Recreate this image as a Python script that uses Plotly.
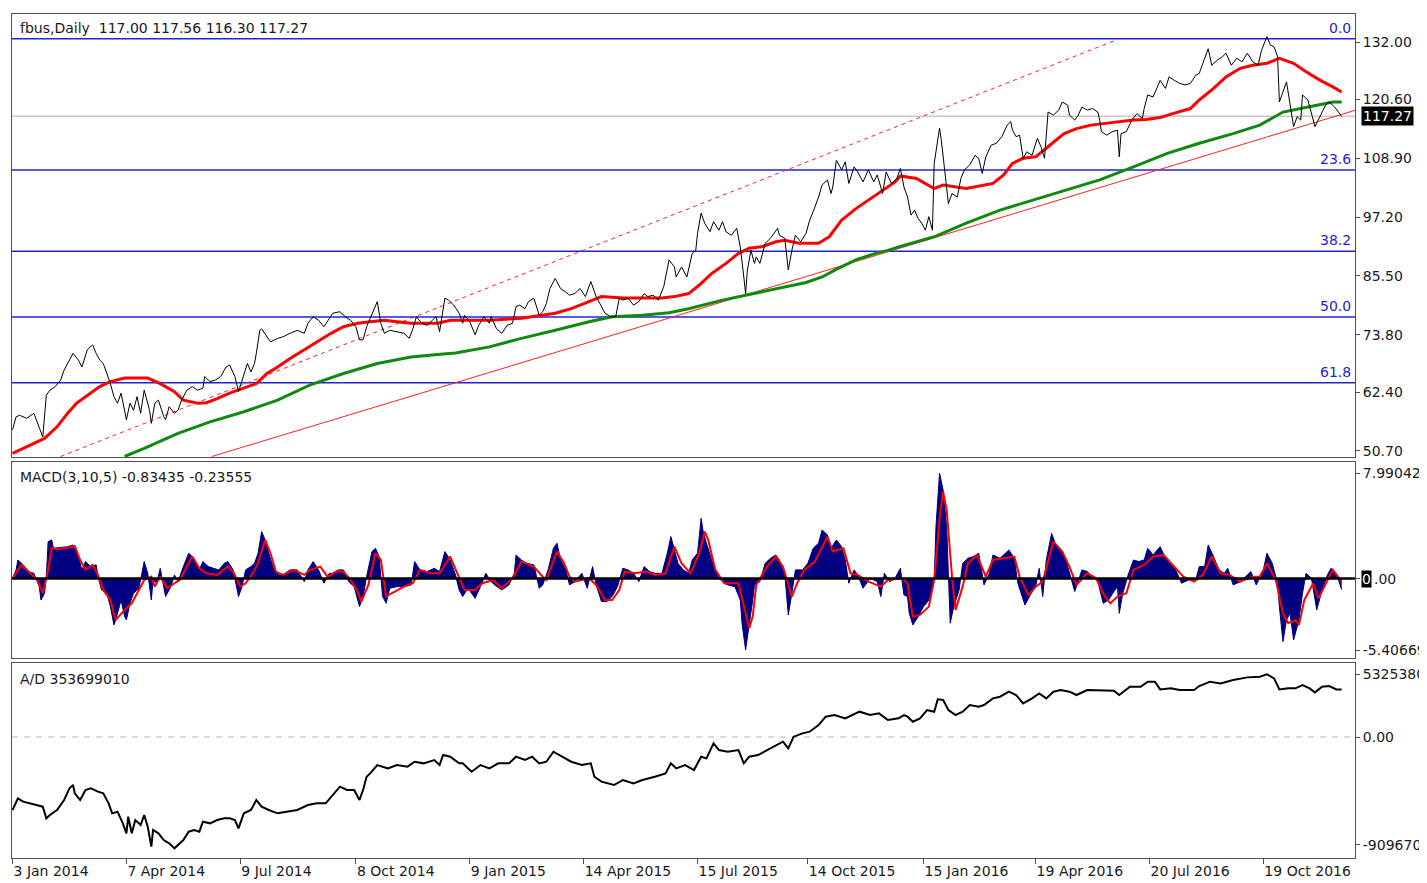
import plotly.graph_objects as go

# ---------------- DATA (bar index = trading-day number from 3 Jan 2014) ----------------
tick_bars = [0, 64, 128, 193, 257, 321, 385, 447, 512, 575, 639, 703]
tick_labels = ["3 Jan 2014", "7 Apr 2014", "9 Jul 2014", "8 Oct 2014", "9 Jan 2015",
               "14 Apr 2015", "15 Jul 2015", "14 Oct 2015", "15 Jan 2016", "19 Apr 2016",
               "20 Jul 2016", "19 Oct 2016"]

price_ticks = [132.00, 120.60, 108.90, 97.20, 85.50, 73.80, 62.40, 50.70]
last_close = 117.27

price_bar = [0, 2, 4, 8, 12, 15, 17, 19, 21, 24, 27, 29, 32, 34, 37, 39, 42, 45, 47, 49, 51, 53, 55, 57, 59,
             61, 63, 64, 66, 68, 70, 72, 74, 77, 78, 80, 82, 85, 86, 88, 91, 93, 95, 98, 101, 104, 107, 108,
             111, 114, 117, 120, 122, 125, 127, 129, 132, 134, 136, 137, 139, 140, 143, 145, 149, 152, 156,
             160, 164, 166, 169, 172, 175, 178, 180, 184, 187, 190, 193, 195, 197, 199, 202, 205, 207, 209,
             212, 216, 220, 223, 225, 227, 230, 233, 236, 238, 240, 241, 243, 245, 248, 251, 253, 254, 257,
             260, 262, 265, 268, 269, 272, 275, 278, 281, 283, 285, 288, 290, 293, 296, 298, 300, 302, 305,
             308, 311, 313, 316, 319, 322, 325, 328, 330, 333, 336, 339, 341, 343, 346, 349, 352, 355, 357,
             360, 363, 366, 369, 372, 373, 376, 379, 382, 384, 385, 387, 389, 392, 394, 397, 399, 401, 404,
             407, 409, 411, 412, 413, 415, 417, 418, 420, 423, 426, 430, 431, 434, 436, 438, 440, 443, 446,
             448, 450, 453, 455, 458, 460, 461, 463, 466, 468, 470, 473, 475, 478, 481, 484, 486, 489, 491,
             494, 497, 499, 501, 503, 505, 507, 509, 511, 513, 515, 517, 518, 520, 521, 522, 524, 526, 528,
             531, 533, 535, 538, 541, 543, 545, 547, 550, 553, 556, 559, 561, 562, 564, 566, 568, 570, 573,
             576, 578, 580, 581, 582, 585, 588, 590, 593, 594, 597, 599, 601, 604, 607, 610, 611, 612, 615,
             618, 621, 622, 623, 626, 629, 632, 635, 636, 638, 641, 643, 645, 648, 650, 653, 656, 659, 662,
             665, 667, 669, 672, 674, 677, 680, 682, 685, 688, 691, 694, 697, 700, 702, 705, 707, 709, 711,
             712, 716, 718, 720, 722, 724, 725, 728, 732, 735, 738, 740, 743, 747]
price_close = [54.9, 57.5, 57.8, 57.2, 58.2, 55.5, 53.5, 61.8, 62.8, 63.5, 64.8, 66.8, 68.8, 70.1, 68.8, 67.4,
               70.8, 71.8, 70.1, 68.8, 68.1, 66.1, 64.1, 61.5, 60.2, 62.2, 58.2, 56.9, 60.2, 58.8, 61.5, 58.2,
               62.8, 58.8, 56.2, 60.2, 60.8, 57.5, 56.9, 59.5, 58.2, 58.8, 60.8, 62.8, 63.5, 62.8, 63.2, 65.5,
               64.5, 64.8, 65.5, 67.4, 67.8, 65.5, 62.5, 64.8, 68.1, 66.4, 68.1, 70.1, 74.7, 75.0, 73.4, 72.4,
               73.1, 73.4, 74.1, 74.7, 74.1, 76.1, 77.4, 76.7, 75.4, 77.1, 78.1, 78.4, 77.4, 76.7, 75.4, 72.8,
               72.8, 75.4, 78.1, 80.4, 76.1, 74.1, 74.7, 74.4, 74.1, 73.1, 75.0, 77.4, 76.1, 75.7, 76.7, 77.4,
               74.4, 76.7, 81.1, 80.7, 79.7, 78.1, 76.1, 77.7, 76.4, 73.8, 75.7, 77.4, 76.1, 77.4, 75.0, 74.1,
               75.7, 76.1, 79.4, 79.7, 79.0, 80.4, 81.1, 77.7, 78.4, 80.0, 83.0, 85.0, 83.0, 82.3, 81.7, 82.0,
               83.0, 81.4, 84.4, 81.4, 80.0, 78.1, 77.4, 77.4, 81.1, 80.7, 81.1, 79.7, 80.4, 82.0, 81.4, 81.7,
               80.7, 83.4, 88.7, 87.3, 85.3, 87.3, 85.3, 90.0, 90.6, 94.0, 98.0, 96.0, 94.3, 96.3, 94.6, 96.3,
               94.3, 93.6, 95.0, 91.3, 85.3, 82.0, 86.7, 90.6, 88.0, 89.3, 88.0, 92.0, 93.0, 95.0, 93.6, 93.0,
               86.7, 90.6, 93.6, 92.3, 94.0, 96.6, 98.3, 101.2, 103.6, 104.6, 101.9, 103.2, 108.5, 106.6,
               108.2, 103.9, 107.2, 106.2, 104.2, 106.6, 104.2, 105.6, 101.9, 106.2, 103.9, 104.9, 106.9,
               103.2, 101.2, 97.6, 98.6, 96.9, 96.0, 94.6, 97.3, 94.6, 107.9, 112.5, 114.9, 112.5, 105.9,
               99.9, 101.9, 101.2, 104.9, 106.6, 107.6, 109.5, 108.9, 105.9, 109.2, 111.5, 111.9, 113.2,
               115.5, 116.2, 114.5, 113.2, 113.5, 108.9, 110.2, 109.5, 112.9, 111.2, 108.9, 113.2, 118.1,
               117.5, 118.5, 120.1, 119.5, 117.5, 116.5, 117.5, 119.1, 118.5, 118.8, 118.1, 116.5, 114.2,
               113.5, 114.2, 114.5, 109.2, 113.8, 114.2, 116.5, 117.8, 116.8, 118.8, 121.5, 121.1, 122.8,
               124.4, 122.8, 125.1, 124.4, 123.8, 123.5, 123.8, 125.4, 125.8, 127.8, 130.7, 127.4, 128.4,
               129.1, 129.8, 127.4, 128.8, 128.1, 129.8, 128.1, 127.4, 130.4, 133.1, 131.4, 131.1, 129.1,
               120.1, 124.1, 119.8, 115.2, 117.2, 116.5, 121.5, 120.5, 115.2, 117.2, 119.5, 120.1, 119.1, 117.27]

ma_fast_bar = [0, 10, 18, 25, 31, 36, 44, 49, 55, 63, 70, 76, 83, 91, 96, 104, 109, 115, 122, 130, 137, 143,
               149, 156, 164, 171, 179, 186, 194, 201, 209, 216, 224, 239, 246, 268, 286, 305, 314, 324, 331,
               343, 354, 365, 372, 380, 386, 393, 401, 408, 414, 421, 429, 434, 442, 453, 459, 466, 474, 481,
               489, 496, 499, 508, 518, 523, 536, 551, 557, 562, 568, 575, 583, 591, 598, 606, 613, 621, 630,
               637, 645, 652, 662, 667, 675, 682, 690, 697, 705, 712, 720, 727, 735, 742, 747]
ma_fast_val = [50.2, 51.9, 53.2, 55.5, 58.2, 60.2, 62.2, 63.5, 64.5, 65.2, 65.2, 65.2, 64.1, 62.5, 60.8, 60.2,
               60.3, 61.1, 62.2, 63.2, 64.1, 66.1, 67.4, 69.1, 70.8, 72.4, 74.1, 75.4, 76.1, 76.4, 76.7, 76.4,
               76.1, 76.1, 76.7, 76.7, 77.1, 78.1, 79.0, 80.4, 81.4, 81.1, 81.1, 81.1, 81.4, 82.0, 83.7, 86.0,
               88.0, 90.0, 91.0, 91.3, 92.3, 92.6, 92.0, 92.0, 93.3, 96.6, 98.9, 100.6, 102.6, 104.2, 105.4,
               104.9, 102.9, 103.6, 102.9, 103.9, 105.6, 107.9, 108.9, 109.2, 111.5, 113.8, 114.8, 115.5,
               115.8, 116.2, 116.5, 116.6, 117.0, 117.8, 118.8, 120.5, 122.8, 125.1, 126.8, 127.4, 127.8,
               128.8, 127.8, 126.1, 124.4, 123.1, 122.1]

ma_slow_bar = [63, 74, 93, 111, 130, 149, 167, 186, 205, 224, 242, 249, 268, 286, 305, 324, 337, 354, 369,
               380, 399, 412, 427, 446, 455, 464, 474, 485, 492, 499, 518, 536, 555, 574, 593, 611, 630, 649,
               667, 686, 701, 714, 724, 733, 742, 747]
ma_slow_val = [49.6, 51.2, 54.2, 56.5, 58.5, 60.8, 63.8, 66.1, 68.1, 69.4, 70.0, 70.2, 71.4, 73.1, 74.7, 76.4,
               77.4, 77.7, 78.2, 79.0, 80.7, 81.7, 82.7, 84.2, 85.3, 87.0, 88.7, 90.0, 90.6, 91.4, 93.3, 96.0,
               98.6, 100.6, 102.6, 104.6, 107.2, 109.9, 111.9, 113.8, 115.5, 118.1, 118.8, 119.5, 120.1, 120.1]

# trend lines (two anchor points each)
support_bar = [112, 755]
support_val = [49.6, 118.5]
channel_bar = [27, 620]
channel_val = [49.6, 132.4]

# Fibonacci retracement anchors
fib_high = 132.7
fib_low = 22.0
fib_levels = [0.0, 23.6, 38.2, 50.0, 61.8]

# MACD(3,10,5)
macd_ticks = [7.99042, 0.0, -5.40669]
macd_bar = [0, 2, 3, 6, 9, 12, 15, 16, 18, 19, 20, 22, 23, 27, 31, 34, 37, 39, 41, 44, 47, 48, 50, 53, 55, 57,
            58, 61, 63, 64, 66, 68, 71, 74, 76, 78, 79, 81, 83, 86, 89, 91, 93, 96, 99, 102, 105, 107, 110, 113,
            116, 119, 121, 124, 127, 129, 131, 134, 136, 138, 140, 142, 144, 147, 150, 152, 156, 160, 164, 166,
            169, 172, 175, 178, 180, 183, 186, 189, 192, 195, 197, 199, 202, 204, 206, 208, 210, 212, 216, 220,
            224, 226, 229, 233, 237, 240, 243, 246, 249, 251, 253, 256, 260, 263, 266, 269, 271, 275, 279, 282,
            283, 286, 289, 293, 296, 298, 301, 304, 306, 308, 311, 313, 316, 320, 323, 326, 328, 331, 334, 337,
            340, 343, 346, 349, 352, 355, 358, 361, 365, 368, 370, 372, 374, 377, 380, 382, 385, 387, 388, 390,
            393, 397, 400, 402, 406, 409, 410, 412, 414, 416, 417, 420, 423, 426, 429, 431, 434, 436, 438, 440,
            444, 447, 450, 453, 455, 458, 460, 463, 466, 468, 470, 473, 475, 478, 482, 486, 488, 490, 493, 496,
            499, 501, 503, 504, 506, 509, 512, 515, 518, 519, 521, 523, 525, 527, 529, 532, 534, 537, 540, 543,
            546, 549, 551, 555, 560, 563, 565, 569, 572, 575, 577, 579, 581, 584, 586, 589, 592, 594, 597, 601,
            604, 607, 610, 613, 616, 619, 621, 622, 624, 627, 630, 633, 636, 638, 641, 645, 648, 651, 653, 657,
            661, 665, 667, 670, 672, 675, 678, 681, 683, 686, 690, 696, 699, 703, 705, 708, 711, 712, 714, 716,
            718, 720, 723, 725, 727, 730, 733, 736, 739, 741, 744, 747]
macd_main = [0.0, 0.66, 1.41, 1.04, 0.53, 0.40, -0.61, -1.62, -1.11, 0.15, 2.80, 2.93, 2.30, 2.37, 2.42, 2.55,
             1.67, 0.66, 1.29, 0.91, 1.04, 0.15, -0.86, -1.11, -2.12, -3.51, -3.13, -1.62, -2.88, -3.13, -1.87,
             -1.11, -0.73, 1.29, 0.40, -1.62, -0.10, -0.35, 0.78, -1.36, -0.61, 0.28, -0.23, 0.91, 1.92, 1.54,
             0.66, 1.29, 0.91, 0.78, 0.66, 1.16, 1.29, 0.66, -1.36, -0.61, 0.66, 0.91, 1.16, 1.92, 3.56, 2.93,
             1.92, 0.66, 0.28, 0.28, 0.66, 0.66, -0.23, 0.66, 1.29, 0.66, -0.35, 0.40, 0.40, 0.66, 0.66, -0.23,
             -0.61, -2.12, -1.36, 0.15, 2.05, 2.30, 1.67, -1.36, -1.87, -0.73, -0.61, -0.61, -0.48, 1.29, 0.66,
             0.53, 0.78, 0.53, 2.05, 1.41, 0.28, -0.86, -1.36, -0.73, -1.49, -0.61, 0.40, -0.23, -0.48, -0.86,
             -0.48, 0.40, 1.79, 1.41, 1.16, 1.04, -0.73, -0.48, 0.66, 2.30, 2.68, 1.41, 0.66, -0.48, -0.23, 0.40,
             -0.73, 0.91, -0.48, -1.74, -1.74, -1.36, -0.61, 0.78, 0.66, 0.40, -0.23, 0.91, 0.53, 0.40, 0.40,
             1.92, 3.18, 2.17, 1.16, 0.66, 0.40, 1.41, 1.92, 4.57, 3.68, 2.68, 1.41, 0.03, -0.35, -0.48, -0.61,
             -1.62, -3.38, -5.40, -3.64, -1.62, -0.48, -0.23, 1.16, 1.54, 1.79, 1.41, 0.40, -2.75, -1.11, 0.66,
             0.66, 1.16, 2.30, 2.68, 3.69, 3.31, 2.30, 2.93, 2.42, 1.41, -0.35, 0.66, 0.28, -0.73, 0.03, -0.23,
             -1.36, 0.40, -0.23, 0.03, 0.78, -1.24, -1.36, -2.63, -3.51, -2.88, -2.12, -1.62, -0.10, 3.94, 7.99,
             6.71, 3.94, -3.38, -2.12, -0.86, 1.16, 1.54, 1.67, 1.92, -0.48, 0.40, 1.79, 1.54, 2.17, 1.54, -0.35,
             -2.00, -1.24, -0.61, 0.78, -1.36, 1.41, 3.43, 2.68, 2.17, 1.41, 0.40, -0.98, 0.66, 0.53, 0.15,
             -0.23, -1.87, -1.62, -0.98, -0.61, -2.63, -1.11, 0.28, 1.41, 1.29, 1.41, 2.30, 1.79, 2.42, 1.54,
             1.04, 0.91, -0.35, -0.10, -0.10, 0.91, 0.91, 2.55, 1.67, 0.66, 0.40, 0.78, -0.48, -0.23, 0.53,
             -0.48, 0.66, 1.92, 1.16, -0.35, -2.12, -4.77, -3.13, -2.63, -4.65, -3.13, -1.11, 0.40, 0.03, -2.37,
             -0.86, 0.28, 0.78, 0.40, -0.83435]

signal_bar = [0, 5, 10, 14, 17, 20, 22, 25, 32, 35, 38, 41, 45, 48, 51, 55, 58, 61, 63, 67, 70, 74, 78, 80, 83,
              87, 91, 94, 98, 101, 105, 109, 115, 121, 124, 128, 131, 135, 138, 142, 145, 148, 152, 158, 164,
              167, 173, 177, 182, 186, 190, 194, 196, 200, 204, 207, 210, 213, 220, 225, 229, 235, 240, 246,
              250, 254, 260, 264, 270, 275, 281, 286, 293, 297, 300, 306, 310, 313, 316, 324, 328, 333, 337,
              341, 344, 350, 356, 361, 367, 372, 376, 381, 386, 389, 391, 395, 400, 408, 412, 414, 416, 418,
              424, 429, 433, 436, 438, 441, 445, 451, 458, 461, 467, 471, 475, 481, 488, 492, 500, 503, 506,
              510, 515, 518, 521, 523, 525, 528, 530, 534, 537, 542, 547, 551, 557, 563, 566, 571, 575, 579,
              585, 590, 594, 598, 604, 609, 614, 617, 621, 626, 630, 636, 641, 647, 652, 658, 664, 669, 674,
              679, 684, 690, 697, 701, 705, 710, 714, 717, 721, 723, 726, 731, 734, 738, 742, 747]
signal_val = [0.0, 1.04, 0.40, -0.10, -1.11, 0.66, 2.30, 2.22, 2.37, 2.47, 1.41, 0.66, 1.04, 0.28, -0.86, -1.62,
              -3.13, -2.63, -2.37, -1.87, -1.11, -0.10, 0.15, -0.61, 0.15, -0.73, -0.35, -0.10, 0.91, 1.67,
              0.78, 0.40, 0.28, 0.91, 0.53, -0.61, -0.35, 0.40, 1.16, 2.93, 1.92, 0.53, 0.28, 0.66, 0.28, 0.66,
              0.91, 0.15, 0.53, 0.53, -0.10, -0.98, -1.74, -0.48, 1.92, 1.41, -1.36, -1.11, -0.61, -0.35, 0.66,
              0.40, 0.40, 1.67, 0.40, -0.86, -0.86, -0.35, -0.10, -0.73, 0.03, 1.29, 0.91, 0.28, -0.10, 2.05,
              1.16, 0.15, -0.23, 0.03, -0.48, -1.62, -1.62, -0.86, 0.53, 0.40, 0.53, 0.28, 0.40, 2.42, 1.16,
              0.40, 1.92, 3.56, 2.93, 0.66, -0.35, -0.35, -2.63, -3.76, -2.88, -0.48, 0.91, 1.67, 0.91, -0.35,
              -1.36, -0.35, 0.66, 1.29, 3.18, 2.05, 2.30, 0.40, 0.28, -0.23, -0.61, -0.10, 0.03, -0.35, -2.88,
              -2.75, -2.12, -0.10, 4.44, 6.59, 5.20, 0.15, -2.37, -0.61, 1.16, 1.79, 0.15, 1.41, 1.54, 1.67,
              0.15, -1.24, -0.61, -0.23, 2.80, 2.05, 0.91, -0.48, 0.40, 0.03, -1.36, -1.87, -1.36, -1.11, 0.66,
              1.04, 1.67, 1.79, 1.04, 0.15, -0.23, 0.28, 1.67, 0.40, 0.28, -0.23, 0.15, 0.15, 1.16, -0.10,
              -2.63, -3.38, -3.13, -3.51, -1.62, -0.35, -1.49, -0.35, 0.66, -0.23555]

# Accumulation/Distribution
ad_ticks = [532538000, 0, -909670400]
ad_bar = [0, 3, 6, 10, 14, 17, 19, 21, 25, 29, 32, 34, 35, 38, 41, 44, 48, 51, 54, 56, 59, 62, 64, 65, 67, 69,
          72, 74, 76, 78, 79, 82, 85, 88, 91, 93, 96, 99, 102, 105, 107, 111, 115, 119, 122, 125, 127, 130, 134,
          137, 140, 144, 149, 154, 160, 166, 171, 176, 179, 182, 184, 188, 192, 195, 197, 199, 201, 205, 211,
          216, 222, 226, 231, 237, 240, 242, 246, 251, 253, 258, 263, 268, 273, 279, 283, 288, 292, 296, 300,
          304, 309, 314, 320, 325, 327, 331, 338, 343, 349, 354, 361, 367, 370, 373, 378, 383, 387, 390, 394,
          397, 402, 408, 411, 414, 419, 424, 429, 433, 436, 439, 444, 448, 453, 457, 462, 468, 472, 476, 482,
          487, 492, 498, 501, 503, 506, 510, 514, 518, 520, 523, 526, 530, 534, 538, 543, 546, 551, 555, 560,
          564, 568, 573, 577, 581, 585, 589, 594, 598, 604, 611, 619, 622, 628, 634, 638, 642, 645, 651, 656,
          664, 667, 673, 679, 686, 694, 701, 705, 709, 712, 717, 721, 725, 729, 732, 736, 740, 744, 747]
ad_millions = [-616.9, -518.4, -546.5, -560.6, -574.7, -588.7, -687.3, -659.1, -616.9, -532.4, -433.8, -405.7,
               -476.1, -532.4, -447.9, -433.8, -462.0, -476.1, -560.6, -645.0, -631.0, -729.5, -814.0, -673.2,
               -814.0, -701.4, -743.6, -659.1, -757.7, -926.7, -785.9, -814.0, -870.4, -898.5, -940.8, -912.6,
               -870.4, -800.0, -785.9, -800.0, -715.5, -729.5, -701.4, -687.3, -687.3, -701.4, -771.8, -645.0,
               -616.9, -532.4, -588.7, -616.9, -645.0, -631.0, -616.9, -574.7, -560.6, -560.6, -504.4, -447.9,
               -419.7, -447.9, -447.9, -532.4, -447.9, -335.3, -307.1, -236.7, -264.8, -236.7, -250.7, -208.6,
               -222.6, -194.4, -236.7, -152.2, -166.2, -222.6, -222.6, -292.9, -236.7, -264.8, -222.6, -222.6,
               -166.2, -194.4, -166.2, -222.6, -208.6, -124.0, -166.2, -208.6, -236.7, -222.6, -335.3, -377.5,
               -405.7, -363.5, -391.7, -363.5, -335.3, -307.1, -222.6, -264.8, -236.7, -278.9, -166.2, -180.3,
               -53.6, -110.0, -124.0, -110.0, -222.6, -166.2, -152.2, -110.0, -67.6, -39.5, -95.8, 2.8, 31.0,
               45.0, 101.4, 171.8, 185.9, 157.8, 185.9, 214.1, 185.9, 199.9, 143.6, 157.8, 185.9, 171.8, 129.5,
               157.8, 228.2, 214.1, 318.3, 312.7, 228.2, 185.9, 214.1, 270.4, 256.3, 270.4, 326.7, 340.8, 383.1,
               354.9, 284.5, 326.7, 369.0, 326.7, 383.1, 397.1, 383.1, 354.9, 397.1, 397.1, 391.5, 354.9, 425.3,
               425.3, 467.6, 467.6, 402.7, 411.2, 397.1, 397.1, 430.9, 467.6, 453.5, 481.6, 504.1, 509.8, 529.5,
               495.7, 402.7, 411.2, 411.2, 439.4, 411.2, 377.4, 425.3, 430.9, 402.7, 402.7]
ad_values = [v * 1e6 for v in ad_millions]

# ---------------- FIGURE ----------------
FONT = "DejaVu Sans"
TXT = "#1a1a1a"
FIBC = "#2323d2"
FRAME = "#505050"

fig = go.Figure()

# price panel
fig.add_trace(go.Scatter(x=channel_bar, y=channel_val, mode="lines",
                         line=dict(color="#ff2020", width=1, dash="4px,4px"), xaxis="x", yaxis="y"))
fig.add_trace(go.Scatter(x=support_bar, y=support_val, mode="lines",
                         line=dict(color="#ff2020", width=1), xaxis="x", yaxis="y"))
fig.add_trace(go.Scatter(x=ma_slow_bar, y=ma_slow_val, mode="lines",
                         line=dict(color="#0f8a0f", width=3), xaxis="x", yaxis="y"))
fig.add_trace(go.Scatter(x=ma_fast_bar, y=ma_fast_val, mode="lines",
                         line=dict(color="#ff0000", width=3), xaxis="x", yaxis="y"))
fig.add_trace(go.Scatter(x=price_bar, y=price_close, mode="lines",
                         line=dict(color="#000000", width=1), xaxis="x", yaxis="y"))

# MACD panel
fig.add_trace(go.Scatter(x=macd_bar, y=macd_main, mode="lines", fill="tozeroy",
                         fillcolor="#000080", line=dict(color="#000080", width=1),
                         xaxis="x2", yaxis="y2"))
fig.add_trace(go.Scatter(x=signal_bar, y=signal_val, mode="lines",
                         line=dict(color="#ff0000", width=2), xaxis="x2", yaxis="y2"))

# A/D panel
fig.add_trace(go.Scatter(x=ad_bar, y=ad_values, mode="lines",
                         line=dict(color="#000000", width=2), xaxis="x3", yaxis="y3"))

shapes = []
for lvl in fib_levels:
    yv = fib_high - lvl / 100.0 * (fib_high - fib_low)
    shapes.append(dict(type="line", xref="paper", x0=0, x1=1, yref="y", y0=yv, y1=yv,
                       line=dict(color=FIBC, width=1.5), layer="below"))
shapes.append(dict(type="line", xref="paper", x0=0, x1=1, yref="y", y0=last_close, y1=last_close,
                   line=dict(color="#c8c8c8", width=1.5), layer="below"))
shapes.append(dict(type="line", xref="paper", x0=0, x1=1, yref="y2", y0=0, y1=0,
                   line=dict(color="#000000", width=2.5), layer="above"))
shapes.append(dict(type="line", xref="paper", x0=0, x1=1, yref="y3", y0=0, y1=0,
                   line=dict(color="#b4b4b4", width=1, dash="6px,6px"), layer="below"))

annotations = []
for lvl in fib_levels:
    yv = fib_high - lvl / 100.0 * (fib_high - fib_low)
    annotations.append(dict(text=f"{lvl:.1f}", xref="paper", x=1, xanchor="right", xshift=-2,
                            yref="y", y=yv, yanchor="bottom", yshift=1, showarrow=False,
                            font=dict(family=FONT, size=14, color=FIBC)))
annotations.append(dict(text="fbus,Daily  117.00 117.56 116.30 117.27", xref="paper", x=0, xanchor="left",
                        xshift=6, yref="y domain", y=1, yanchor="top", yshift=-4, showarrow=False,
                        font=dict(family=FONT, size=14, color=TXT)))
annotations.append(dict(text="MACD(3,10,5) -0.83435 -0.23555", xref="paper", x=0, xanchor="left",
                        xshift=6, yref="y2 domain", y=1, yanchor="top", yshift=-5, showarrow=False,
                        font=dict(family=FONT, size=14, color=TXT)))
annotations.append(dict(text="A/D 353699010", xref="paper", x=0, xanchor="left",
                        xshift=6, yref="y3 domain", y=1, yanchor="top", yshift=-6, showarrow=False,
                        font=dict(family=FONT, size=14, color=TXT)))
annotations.append(dict(text=f"{last_close:.2f}", xref="paper", x=1, xanchor="left", xshift=6,
                        yref="y", y=last_close, yanchor="middle", showarrow=False, bgcolor="#000000",
                        borderpad=1, font=dict(family=FONT, size=14, color="#ffffff")))
# MACD zero label: first digit sits in the black current-level marker, rest follows it
annotations.append(dict(text="0", xref="paper", x=1, xanchor="left", xshift=6,
                        yref="y2", y=0, yanchor="middle", showarrow=False, bgcolor="#000000",
                        borderpad=0, font=dict(family=FONT, size=14, color="#ffffff")))
annotations.append(dict(text=".00", xref="paper", x=1, xanchor="left", xshift=17,
                        yref="y2", y=0, yanchor="middle", showarrow=False,
                        font=dict(family=FONT, size=14, color=TXT)))

xbase = dict(range=[-0.3, 754.5], showgrid=False, zeroline=False, showline=True, mirror=True,
             linecolor=FRAME, linewidth=1, automargin=False)
ybase = dict(side="right", showgrid=False, zeroline=False, showline=True, mirror=True,
             linecolor=FRAME, linewidth=1, ticks="outside", ticklen=4, tickcolor=FRAME, automargin=False,
             tickfont=dict(family=FONT, size=14, color=TXT))

# the page body adds an 8 px offset, so the figure is 8 px smaller and margins compensate
fig.update_layout(
    width=1419, height=875,
    margin=dict(l=4, r=72, t=6, b=25, autoexpand=False),
    paper_bgcolor="white", plot_bgcolor="white",
    showlegend=False,
    xaxis=dict(**xbase, domain=[0, 1], anchor="y", showticklabels=False),
    xaxis2=dict(**xbase, domain=[0, 1], anchor="y2", matches="x", showticklabels=False),
    xaxis3=dict(**xbase, domain=[0, 1], anchor="y3", matches="x", tickmode="array",
                tickvals=tick_bars, ticktext=tick_labels, ticks="outside", ticklen=5, tickcolor=FRAME,
                ticklabelposition="outside right",
                tickfont=dict(family=FONT, size=14, color=TXT)),
    yaxis=dict(**ybase, domain=[0.4751, 1.0], anchor="x", range=[49.5, 137.6], tickmode="array",
               tickvals=price_ticks, ticktext=[f"{v:.2f}" for v in price_ticks]),
    yaxis2=dict(**ybase, domain=[0.2370, 0.4692], anchor="x2", range=[-6.01, 8.83], tickmode="array",
                tickvals=macd_ticks, ticktext=["7.99042", "", "-5.40669"]),
    yaxis3=dict(**ybase, domain=[0.0, 0.2310], anchor="x3", range=[-1022.5e6, 625.3e6], tickmode="array",
                tickvals=ad_ticks, ticktext=["532538000", "0.00", "-909670400"]),
    shapes=shapes,
    annotations=annotations,
)

fig.write_html("out.html")
